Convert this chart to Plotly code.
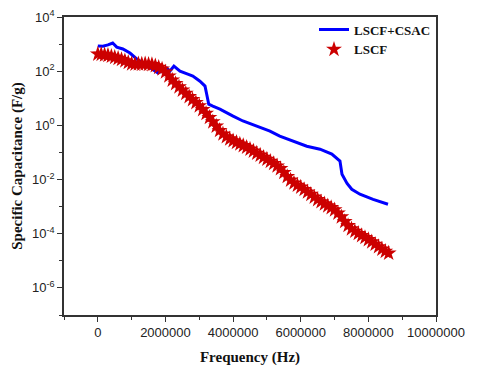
import plotly.graph_objects as go

# LSCF+CSAC (blue line)
freq_csac = [0.0, 0.15e6, 0.30e6, 0.44e6, 0.56e6, 0.74e6, 0.95e6, 1.15e6, 1.33e6, 1.60e6,
             1.78e6, 2.04e6, 2.13e6, 2.25e6, 2.43e6, 2.66e6, 2.81e6, 3.02e6, 3.17e6, 3.22e6,
             3.28e6, 3.40e6, 3.61e6, 4.00e6, 4.29e6, 4.70e6, 5.09e6, 5.38e6, 5.77e6, 6.18e6,
             6.57e6, 6.92e6, 7.16e6, 7.22e6, 7.37e6, 7.51e6, 7.75e6, 8.14e6, 8.58e6]
cap_csac = [851, 832, 933, 1096, 776, 661, 468, 282, 200, 120,
            85.1, 129, 100, 155, 100, 77.6, 66.1, 42.7, 28.2, 14.1,
            6.03, 5.13, 3.98, 2.19, 1.45, 0.933, 0.617, 0.398, 0.263, 0.170,
            0.132, 0.0871, 0.0479, 0.0158, 0.00724, 0.00437, 0.00288, 0.00186, 0.00123]

# LSCF (red stars)
freq_lscf = [i * 1e5 for i in range(87)]
cap_lscf = [427, 417, 398, 380, 355, 324, 295, 269, 240, 209,
            186, 182, 186, 182, 186, 178, 174, 158, 138, 120,
            93.3, 66.1, 46.8, 34.7, 26.3, 20.0, 15.1, 11.5, 8.91, 6.92,
            5.25, 3.80, 2.75, 1.95, 1.35, 0.933, 0.646, 0.479, 0.380, 0.316,
            0.269, 0.234, 0.204, 0.178, 0.155, 0.132, 0.112, 0.0933, 0.0794, 0.0661,
            0.0562, 0.0468, 0.0389, 0.0316, 0.0251, 0.0182, 0.0129, 0.00955, 0.00741, 0.00617,
            0.00525, 0.00427, 0.00347, 0.00282, 0.00224, 0.00182, 0.00151, 0.00126, 0.00107, 0.000912,
            0.000759, 0.000575, 0.000417, 0.000282, 0.000200, 0.000151, 0.000123, 0.000102, 8.51e-5, 7.24e-5,
            6.03e-5, 5.01e-5, 4.07e-5, 3.31e-5, 2.69e-5, 2.24e-5, 1.91e-5]

y_tickvals = [1e-6, 1e-4, 1e-2, 1, 1e2, 1e4]
y_ticktext = ['10<sup>-6</sup>', '10<sup>-4</sup>', '10<sup>-2</sup>', '10<sup>0</sup>',
              '10<sup>2</sup>', '10<sup>4</sup>']
x_tickvals = [0, 2000000, 4000000, 6000000, 8000000, 10000000]
x_ticktext = ['0', '2000000', '4000000', '6000000', '8000000', '10000000']

fig = go.Figure()
fig.add_trace(go.Scatter(x=freq_csac, y=cap_csac, mode='lines', name='<b>LSCF+CSAC</b>',
                         line=dict(color='#0000ff', width=3)))
fig.add_trace(go.Scatter(x=freq_lscf, y=cap_lscf, mode='markers', name='<b>LSCF</b>',
                         marker=dict(symbol='star', size=12, color='#cc0000',
                                     line=dict(width=0))))

serif = 'Liberation Serif, Times New Roman, serif'
sans = 'Liberation Sans, Arial, sans-serif'

# page body has an 8px margin, so the figure is sized/offset to compensate
fig.update_layout(
    width=472, height=359,
    margin=dict(l=56, r=44, t=8, b=52),
    paper_bgcolor='white', plot_bgcolor='white',
    font=dict(family=sans, size=13, color='#222'),
    legend=dict(x=1, y=1.005, xanchor='right', yanchor='top', bgcolor='rgba(0,0,0,0)',
                font=dict(family=serif, size=13, color='#111'), tracegroupgap=0,
                itemwidth=30),
)
fig.update_xaxes(range=[-1000000, 10000000], tickvals=x_tickvals, ticktext=x_ticktext,
                 automargin=False,
                 showgrid=False, zeroline=False, showline=True, linecolor='#333', linewidth=1.5,
                 mirror=True, ticks='outside', ticklen=5, tickcolor='#333',
                 minor=dict(dtick=1000000, tick0=1000000, ticks='outside', ticklen=3, tickcolor='#333'),
                 title=dict(text='<b>Frequency (Hz)</b>', font=dict(family=serif, size=15, color='#111'),
                            standoff=12))
fig.update_yaxes(type='log', range=[-7, 4], tickvals=y_tickvals, ticktext=y_ticktext,
                 automargin=False,
                 showgrid=False, zeroline=False, showline=True, linecolor='#333', linewidth=1.5,
                 mirror=True, ticks='outside', ticklen=5, tickcolor='#333',
                 minor=dict(tickvals=[1e-7, 1e-5, 1e-3, 1e-1, 1e1, 1e3], ticks='outside', ticklen=3,
                            tickcolor='#333'),
                 title=dict(text='<b>Specific Capacitance (F/g)</b>',
                            font=dict(family=serif, size=15, color='#111'), standoff=6))

fig.write_html("out.html")
